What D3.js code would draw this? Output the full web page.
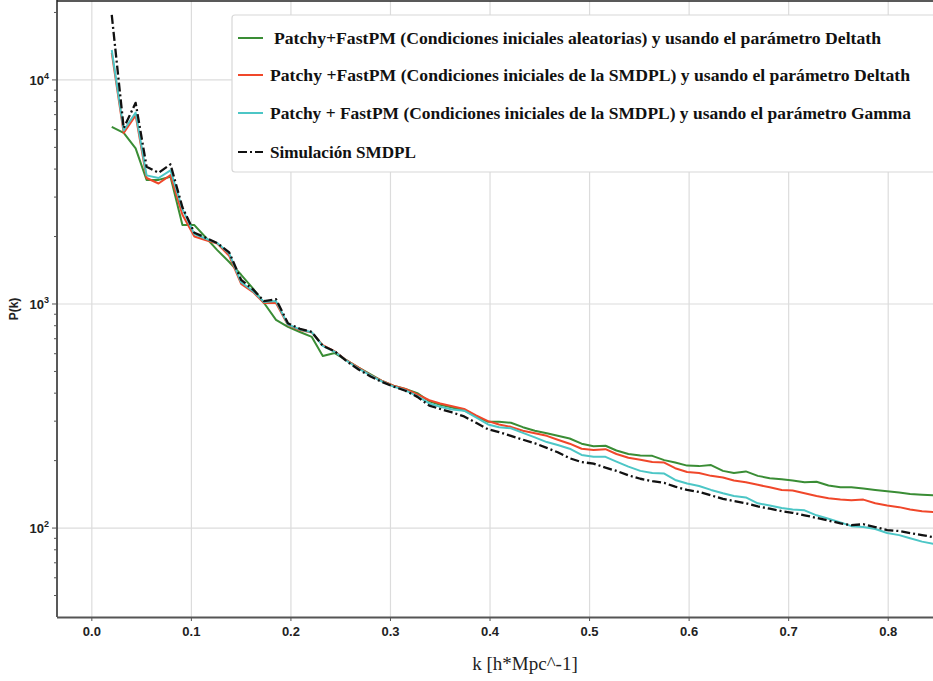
<!DOCTYPE html>
<html>
<head>
<meta charset="utf-8">
<script src="https://cdn.jsdelivr.net/npm/d3@7"></script>
<style>
  body { margin: 0; background: #fff; }
  svg { display: block; }
  .grid line { stroke: #dcdcdc; stroke-width: 1.2; }
  .tick-label { font-family: "Liberation Sans", Arial, sans-serif; font-size: 13px; font-weight: bold; fill: #222; }
  .legend-text { font-family: "Liberation Serif", "Times New Roman", serif; font-weight: bold; font-size: 17.5px; fill: #111; }
</style>
</head>
<body>
<div id="chart"></div>
<script>
// k values (h/Mpc)
var kValues = [0.020, 0.032, 0.044, 0.055, 0.067, 0.079, 0.091, 0.103, 0.114, 0.126,
  0.138, 0.150, 0.162, 0.173, 0.185, 0.197, 0.209, 0.221, 0.232, 0.244,
  0.256, 0.268, 0.280, 0.291, 0.303, 0.315, 0.327, 0.339, 0.350, 0.362,
  0.374, 0.386, 0.398, 0.409, 0.421, 0.433, 0.445, 0.457, 0.468, 0.480,
  0.492, 0.504, 0.516, 0.527, 0.539, 0.551, 0.563, 0.575, 0.586, 0.598,
  0.610, 0.622, 0.634, 0.645, 0.657, 0.669, 0.681, 0.693, 0.704, 0.716,
  0.728, 0.740, 0.752, 0.763, 0.775, 0.787, 0.799, 0.811, 0.822, 0.834, 0.846];

// Patchy+FastPM, random initial conditions, Deltath
var pkGreen = [6170, 5800, 4950, 3580, 3580, 3700, 2250, 2250, 1990, 1740,
  1540, 1350, 1170, 1010, 850, 790, 750, 713, 586, 604,
  560, 520, 485, 455, 432, 418, 400, 368, 355, 345,
  335, 315, 298, 298, 295, 282, 272, 265, 258, 251,
  238, 232, 233, 222, 214, 211, 210, 201, 196, 190,
  189, 191, 180, 176, 179, 171, 167, 165, 163, 160,
  161, 155, 152, 152, 150, 148, 146, 144, 142, 141, 140];

// Patchy+FastPM, SMDPL initial conditions, Deltath
var pkRed = [13200, 5800, 6950, 3650, 3450, 3760, 2500, 2000, 1930, 1860,
  1640, 1230, 1130, 1010, 1010, 805, 765, 745, 655, 615,
  560, 520, 482, 455, 432, 418, 395, 372, 360, 350,
  340, 318, 300, 290, 283, 272, 265, 258, 248, 238,
  226, 223, 225, 214, 206, 202, 197, 196, 185, 178,
  176, 171, 168, 163, 160, 156, 152, 148, 147, 143,
  139, 136, 134, 133, 134, 129, 126, 124, 121, 119, 118];

// Patchy+FastPM, SMDPL initial conditions, Gamma
var pkCyan = [13600, 5950, 7150, 3750, 3650, 3950, 2650, 2050, 1960, 1870,
  1680, 1250, 1140, 1020, 1030, 810, 770, 748, 650, 612,
  558, 515, 480, 452, 428, 412, 388, 360, 348, 338,
  334, 312, 290, 282, 279, 266, 254, 242, 235, 226,
  212, 208, 208, 198, 188, 180, 176, 175, 164, 158,
  154, 148, 143, 139, 137, 129, 126, 123, 121, 120,
  114, 110, 106, 102, 101, 99, 95, 93, 90, 87, 85];

// SMDPL simulation
var pkSim = [19500, 6100, 7900, 4100, 3850, 4200, 2700, 2080, 1980, 1870,
  1700, 1280, 1160, 1030, 1050, 820, 775, 750, 650, 615,
  555, 510, 475, 450, 428, 410, 385, 352, 340, 328,
  315, 295, 276, 268, 258, 248, 239, 228, 218, 205,
  197, 194, 186, 180, 172, 166, 162, 159, 153, 148,
  145, 140, 135, 132, 129, 125, 122, 119, 117, 114,
  111, 108, 105, 103, 104, 101, 98, 97, 95, 93, 91];

var xTicks = [0.0, 0.1, 0.2, 0.3, 0.4, 0.5, 0.6, 0.7, 0.8];
var yMajor = [100, 1000, 10000];

var seriesNames = [
  "Patchy+FastPM (Condiciones iniciales aleatorias) y usando el parámetro Deltath",
  "Patchy +FastPM (Condiciones iniciales de la SMDPL) y usando el parámetro Deltath",
  "Patchy + FastPM (Condiciones iniciales de la SMDPL) y usando el parámetro Gamma",
  "Simulación SMDPL"
];
var seriesValues = [pkGreen, pkRed, pkCyan, pkSim];
var seriesColors = ["#3a8d35", "#f0472a", "#4cc6c6", "#111111"];

var W = 933, H = 681;
var margin = {left: 57, top: 1, right: 0, bottom: 64};

var x = d3.scaleLinear().domain([-0.035, 0.845]).range([margin.left, W]);
var y = d3.scaleLog().domain([40.1, 22500]).range([H - margin.bottom, margin.top]);

var svg = d3.select("#chart").append("svg").attr("width", W).attr("height", H);

svg.append("clipPath").attr("id", "clip")
  .append("rect")
  .attr("x", margin.left).attr("y", margin.top)
  .attr("width", W - margin.left).attr("height", H - margin.bottom - margin.top);

// grid
var grid = svg.append("g").attr("class", "grid");
grid.selectAll("line.v").data(xTicks).enter().append("line")
  .attr("x1", function(d){ return x(d); }).attr("x2", function(d){ return x(d); })
  .attr("y1", margin.top).attr("y2", H - margin.bottom);
grid.selectAll("line.h").data(yMajor).enter().append("line")
  .attr("x1", margin.left).attr("x2", W)
  .attr("y1", function(d){ return y(d); }).attr("y2", function(d){ return y(d); });

// curves
var line = d3.line()
  .x(function(d){ return x(d[0]); })
  .y(function(d){ return y(d[1]); });

var curves = svg.append("g").attr("clip-path", "url(#clip)");
seriesValues.forEach(function(vals, i){
  var pts = kValues.map(function(k, j){ return [k, vals[j]]; });
  curves.append("path")
    .datum(pts)
    .attr("fill", "none")
    .attr("stroke", seriesColors[i])
    .attr("stroke-width", i === 3 ? 2.3 : 2)
    .attr("stroke-dasharray", i === 3 ? "9,3,2,3" : null)
    .attr("stroke-linejoin", "round")
    .attr("d", line);
});

// axes spines
svg.append("line").attr("x1", margin.left).attr("x2", margin.left)
  .attr("y1", 0).attr("y2", H - margin.bottom)
  .attr("stroke", "#222").attr("stroke-width", 1.5);
svg.append("line").attr("x1", margin.left).attr("x2", W)
  .attr("y1", margin.top).attr("y2", margin.top)
  .attr("stroke", "#222").attr("stroke-width", 1.5);
svg.append("line").attr("x1", margin.left).attr("x2", W)
  .attr("y1", H - margin.bottom + 0.5).attr("y2", H - margin.bottom + 0.5)
  .attr("stroke", "#555").attr("stroke-width", 2);

// y ticks (log, with minor ticks)
var yTicks = y.ticks().filter(function(d){ return d >= 40.1 && d <= 22500; });
svg.append("g").selectAll("line").data(yTicks).enter().append("line")
  .attr("x1", function(d){ return yMajor.indexOf(d) >= 0 ? margin.left - 5 : margin.left - 3; })
  .attr("x2", margin.left)
  .attr("y1", function(d){ return y(d); }).attr("y2", function(d){ return y(d); })
  .attr("stroke", "#555").attr("stroke-width", 1);

var yl = svg.append("g").selectAll("text").data(yMajor).enter().append("text")
  .attr("class", "tick-label")
  .attr("x", margin.left - 8).attr("y", function(d){ return y(d) + 5; })
  .attr("text-anchor", "end");
yl.append("tspan").text("10");
yl.append("tspan").attr("dy", -6).attr("font-size", 9)
  .text(function(d){ return Math.round(Math.log10(d)); });

// x ticks
svg.append("g").selectAll("line").data(xTicks).enter().append("line")
  .attr("x1", function(d){ return x(d); }).attr("x2", function(d){ return x(d); })
  .attr("y1", H - margin.bottom).attr("y2", H - margin.bottom + 4)
  .attr("stroke", "#555").attr("stroke-width", 1);

svg.append("g").selectAll("text").data(xTicks).enter().append("text")
  .attr("class", "tick-label")
  .attr("x", function(d){ return x(d); })
  .attr("y", H - margin.bottom + 19)
  .attr("text-anchor", "middle")
  .text(function(d){ return d3.format(".1f")(d); });

// axis titles
svg.append("text")
  .attr("x", 525).attr("y", 670)
  .attr("text-anchor", "middle")
  .attr("font-family", "Liberation Serif, Times New Roman, serif")
  .attr("font-size", 19).attr("fill", "#222")
  .text("k [h*Mpc^-1]");

svg.append("text")
  .attr("transform", "translate(18,309) rotate(-90)")
  .attr("text-anchor", "middle")
  .attr("font-family", "Liberation Sans, Arial, sans-serif")
  .attr("font-size", 12).attr("font-weight", "bold").attr("fill", "#222")
  .text("P(k)");

// legend
var lg = svg.append("g");
lg.append("rect")
  .attr("x", 232).attr("y", 15).attr("width", 720).attr("height", 157)
  .attr("rx", 3)
  .attr("fill", "#fff").attr("stroke", "#d8d8d8").attr("stroke-width", 1.2);

var rowY = [38, 75, 113, 152];
var textLen = [607, 640, 641, 146];
seriesNames.forEach(function(name, i){
  lg.append("line")
    .attr("x1", 238).attr("x2", 263)
    .attr("y1", rowY[i]).attr("y2", rowY[i])
    .attr("stroke", seriesColors[i]).attr("stroke-width", 2)
    .attr("stroke-dasharray", i === 3 ? "9,3,2,3" : null);
  lg.append("text")
    .attr("class", "legend-text")
    .attr("x", i === 0 ? 274 : 270).attr("y", rowY[i] + 6)
    .attr("textLength", textLen[i]).attr("lengthAdjust", "spacingAndGlyphs")
    .text(name);
});
</script>
</body>
</html>
